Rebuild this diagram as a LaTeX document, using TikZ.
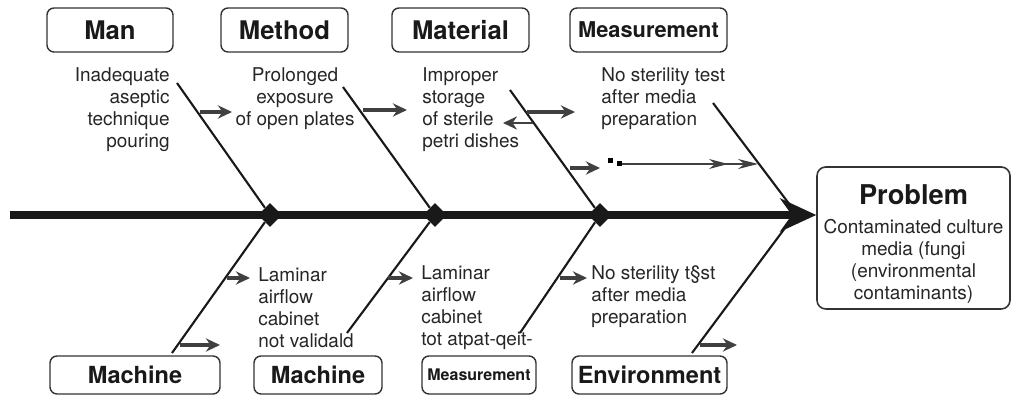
\documentclass[tikz,border=0pt]{standalone}
\usepackage{fontspec}
\setmainfont{TeX Gyre Heros}
\usetikzlibrary{arrows.meta,shapes.geometric}

\begin{document}
\begin{tikzpicture}[scale=1]
\tikzstyle{catbox}=[draw=black!80,rounded corners=4pt,line width=0.8pt,inner sep=0pt,text=black!90,font=\bfseries\fontsize{14.6}{17}\selectfont]
\tikzstyle{causetext}=[inner sep=0pt,text=black!85,font=\fontsize{10.8}{12.5}\selectfont]
\tikzstyle{bone}=[line width=1.2pt,black!90]
\tikzstyle{junction}=[diamond,fill=black!90,inner sep=0pt,minimum size=0.48cm]
\tikzstyle{shortarrow}=[line width=2pt,draw=black!75,-{Stealth[length=8pt,width=7.5pt]}]
\tikzstyle{square}=[fill=black,inner sep=0pt,minimum size=0.1cm]
\useasboundingbox (0,-3.62) rectangle (20.28,4.30);
% category boxes
\node[catbox,minimum width=2.52cm,minimum height=0.88cm] (man) at (2.20,3.70) {Man};
\node[catbox,minimum width=2.54cm,minimum height=0.88cm] (method) at (5.69,3.70) {Method};
\node[catbox,minimum width=2.74cm,minimum height=0.88cm] (material) at (9.21,3.70) {Material};
\node[catbox,minimum width=3.14cm,minimum height=0.88cm,font=\bfseries\fontsize{12.4}{15}\selectfont] (measure) at (12.97,3.70) {Measurement};
\node[catbox,minimum width=3.40cm,minimum height=0.76cm,font=\bfseries\fontsize{13.4}{15}\selectfont] (machine) at (2.70,-3.20) {Machine};
\node[catbox,minimum width=2.56cm,minimum height=0.76cm,font=\bfseries\fontsize{13.4}{15}\selectfont] (machineb) at (6.36,-3.20) {Machine};
\node[catbox,minimum width=2.28cm,minimum height=0.76cm,font=\bfseries\fontsize{9.1}{11}\selectfont] (measureb) at (9.58,-3.20) {Measurement};
\node[catbox,minimum width=3.10cm,minimum height=0.76cm,font=\bfseries\fontsize{13.4}{15}\selectfont] (environ) at (12.99,-3.20) {Environment};
% problem box
\node[draw=black!80,rounded corners=5pt,line width=0.9pt,minimum width=3.86cm,minimum height=2.84cm] (problem) at (18.27,-0.46) {};
\node[inner sep=0pt,text=black!90,font=\bfseries\fontsize{15.5}{18}\selectfont] (probtitle) at (18.27,0.40) {Problem};
\node[causetext,align=center] (probtext) at (18.27,-0.92) {Contaminated culture\\media (fungi\\(environmental\\contaminants)};
% causes
\node[causetext,align=right,anchor=east] (mancause) at (3.40,2.10) {Inadequate\\aseptic\\technique\\pouring};
\node[causetext,align=center] (methcause) at (5.90,2.32) {Prolonged\\exposure\\of open plates};
\node[causetext,align=left,anchor=west] (matcause) at (8.44,2.10) {Improper\\storage\\of sterile\\petri dishes};
\node[causetext,align=left,anchor=west] (meascause) at (12.02,2.32) {No sterility test\\after media\\preparation};
\node[causetext,align=left,anchor=west] (machcause) at (5.16,-1.86) {Laminar\\airflow\\cabinet\\not validald};
\node[causetext,align=left,anchor=west] (machbcause) at (8.42,-1.86) {Laminar\\airflow\\cabinet\\tot atpat-qeit-};
\node[causetext,align=left,anchor=west] (envcause) at (11.82,-1.64) {No sterility t§st\\after media\\preparation};
% spine
\coordinate (tail) at (0.2,0);
\draw[line width=5pt,black!90,-{Stealth[length=0.72cm,width=0.66cm]}] (tail) -- (tail -| problem.west);
\node[junction] (j1) at (5.40,0) {};
\node[junction] (j2) at (8.70,0) {};
\node[junction] (j3) at (12.00,0) {};
% bones
\coordinate (mantop) at (3.54,2.64);
\coordinate (methtop) at (6.86,2.56);
\coordinate (mattop) at (10.20,2.50);
\coordinate (meastop) at (14.26,2.24);
\coordinate (measend) at (15.80,0.20);
\coordinate (machbot) at (3.44,-2.76);
\coordinate (machbbot) at (6.94,-2.36);
\coordinate (measbbot) at (10.40,-2.36);
\coordinate (envbot) at (13.84,-2.76);
\coordinate (envend) at (15.70,-0.26);
\draw[bone] (mantop) -- (j1);
\draw[bone] (methtop) -- (j2);
\draw[bone] (mattop) -- (j3);
\draw[bone] (meastop) -- (measend);
\draw[bone] (machbot) -- (j1);
\draw[bone] (machbbot) -- (j2);
\draw[bone] (measbbot) -- (j3);
\draw[bone] (envbot) -- (envend);
% small arrows
\coordinate (a1) at (4.00,2.06);
\coordinate (a1e) at (4.64,2.06);
\coordinate (a2) at (7.26,2.10);
\coordinate (a2e) at (8.14,2.10);
\coordinate (a3) at (10.54,2.06);
\coordinate (a3e) at (11.50,2.06);
\coordinate (a4) at (10.66,1.84);
\coordinate (a4e) at (10.06,1.84);
\coordinate (a5) at (11.40,0.94);
\coordinate (a5e) at (12.00,0.94);
\coordinate (b1) at (4.54,-1.26);
\coordinate (b1e) at (5.00,-1.26);
\coordinate (b2) at (3.60,-2.60);
\coordinate (b2e) at (4.40,-2.60);
\coordinate (b3) at (7.76,-1.26);
\coordinate (b3e) at (8.26,-1.26);
\coordinate (b4) at (11.20,-1.26);
\coordinate (b4e) at (11.74,-1.26);
\coordinate (b5) at (14.00,-2.60);
\coordinate (b5e) at (14.74,-2.60);
\draw[shortarrow] (a1) -- (a1e);
\draw[shortarrow] (a2) -- (a2e);
\draw[shortarrow] (a3) -- (a3e);
\draw[shortarrow,line width=1pt] (a4) -- (a4e);
\draw[shortarrow] (a5) -- (a5e);
\draw[shortarrow] (b1) -- (b1e);
\draw[shortarrow] (b2) -- (b2e);
\draw[shortarrow] (b3) -- (b3e);
\draw[shortarrow] (b4) -- (b4e);
\draw[shortarrow] (b5) -- (b5e);
% thin arrow with squares
\node[square] (sq1) at (12.20,1.08) {};
\node[square] (sq2) at (12.38,1.02) {};
\coordinate (dblend) at (15.16,1.02);
\draw[line width=0.6pt,black!75,-{Stealth[length=0.38cm,width=0.2cm,sep=0.2cm]Stealth[length=0.4cm,width=0.2cm]}] (sq2.east) -- (dblend);
\end{tikzpicture}
\end{document}
